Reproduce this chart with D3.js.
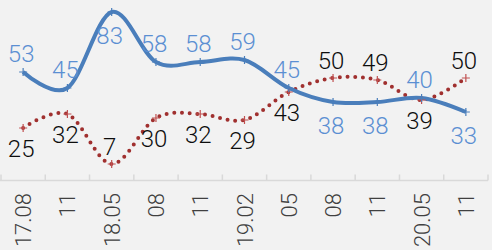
<!DOCTYPE html>
<html>
<head>
<meta charset="utf-8">
<script src="https://cdn.jsdelivr.net/npm/d3@7"></script>
<style>
  body { margin: 0; background: #f2f2f2; }
  svg { display: block; font-family: "Roboto", "Liberation Sans", sans-serif; }
</style>
</head>
<body>
<svg id="chart" width="492" height="250"></svg>
<script>
var categories = ["17.08", "11", "18.05", "08", "11", "19.02", "05", "08", "11", "20.05", "11"];
var blueValues = [53, 45, 83, 58, 58, 59, 45, 38, 38, 40, 33];
var redValues = [25, 32, 7, 30, 32, 29, 43, 50, 49, 39, 50];
// label placement: true = above the point
var blueAbove = [true, true, false, true, true, true, true, false, false, true, false];
var redAbove = [false, false, true, false, false, false, false, true, true, false, true];

var width = 492,
    height = 250;

var svg = d3.select("#chart");

svg.append("rect")
  .attr("width", width)
  .attr("height", height)
  .attr("fill", "#f2f2f2");

var idx = categories.map(function(d, i) { return i; });

var x = d3.scaleBand()
  .domain(idx)
  .range([1, 488]);

var y = d3.scaleLinear()
  .domain([0, 89])
  .range([178, 0]);

function cx(i) { return x(i) + x.bandwidth() / 2; }

// axis
var axis = svg.append("g")
  .attr("transform", "translate(0,180.5)");

axis.append("line")
  .attr("x1", 0)
  .attr("x2", 488)
  .attr("stroke", "#d9d9d9")
  .attr("stroke-width", 1.5);

axis.selectAll("line.tick")
  .data(idx.concat([categories.length]))
  .enter().append("line")
  .attr("class", "tick")
  .attr("x1", function(d) { return d < categories.length ? x(d) : x.range()[1]; })
  .attr("x2", function(d) { return d < categories.length ? x(d) : x.range()[1]; })
  .attr("y1", 0)
  .attr("y2", -6)
  .attr("stroke", "#d9d9d9")
  .attr("stroke-width", 1.5);

svg.selectAll("text.cat")
  .data(categories)
  .enter().append("text")
  .attr("class", "cat")
  .attr("transform", function(d, i) { return "translate(" + (cx(i) + 8) + ",193) rotate(-90)"; })
  .attr("text-anchor", "end")
  .attr("font-size", 22)
  .attr("font-weight", 300)
  .attr("fill", "#404040")
  .text(function(d) { return d; });

var line = d3.line()
  .x(function(d, i) { return cx(i); })
  .y(function(d) { return y(d); })
  .curve(d3.curveCardinal.tension(0));

// red dotted series
svg.append("path")
  .datum(redValues)
  .attr("d", line)
  .attr("fill", "none")
  .attr("stroke", "#a0302f")
  .attr("stroke-width", 4)
  .attr("stroke-linecap", "round")
  .attr("stroke-dasharray", "0,7.7");

// blue series
svg.append("path")
  .datum(blueValues)
  .attr("d", line)
  .attr("fill", "none")
  .attr("stroke", "#4a7ebb")
  .attr("stroke-width", 4);

function markers(values, color) {
  var g = svg.append("g");
  g.selectAll("path")
    .data(values)
    .enter().append("path")
    .attr("d", function(d, i) {
      var px = cx(i), py = y(d);
      return "M" + (px - 4) + "," + py + "H" + (px + 4) + "M" + px + "," + (py - 4) + "V" + (py + 4);
    })
    .attr("stroke", color)
    .attr("stroke-width", 1.2);
}
markers(redValues, "#c05050");
markers(blueValues, "#4a7ebb");

function labels(values, above, color, upOff, downOff) {
  svg.append("g").selectAll("text")
    .data(values)
    .enter().append("text")
    .attr("x", function(d, i) { return cx(i) - 2; })
    .attr("y", function(d, i) { return above[i] ? y(d) - upOff : y(d) + downOff; })
    .attr("text-anchor", "middle")
    .attr("font-size", 24)
    .attr("font-weight", 300)
    .attr("fill", color)
    .text(function(d) { return d; });
}
labels(blueValues, blueAbove, "#5b8fd2", 10.5, 31.5);
labels(redValues, redAbove, "#0d0d0d", 9.5, 29);
</script>
</body>
</html>
